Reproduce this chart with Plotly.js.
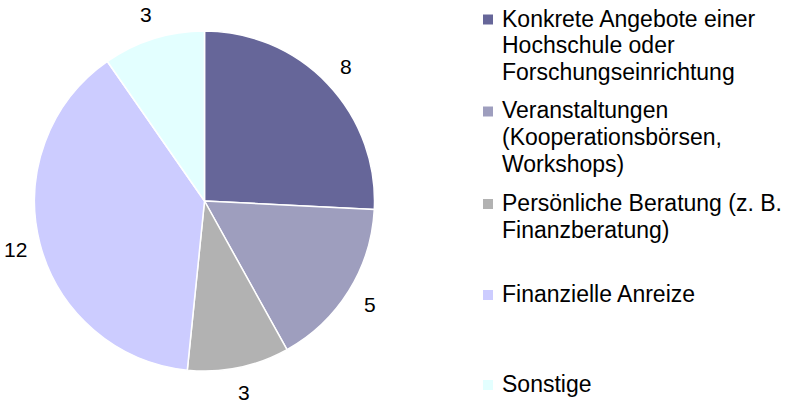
<!DOCTYPE html>
<html>
<head>
<meta charset="utf-8">
<script src="https://cdn.plot.ly/plotly-3.0.1.min.js"></script>
<style>html,body{margin:0;padding:0;background:#fff;}#chart{width:790px;height:403px;}</style>
</head>
<body>
<div id="chart"></div>
<script>
const categories = [
  "Konkrete Angebote einer Hochschule oder Forschungseinrichtung",
  "Veranstaltungen (Kooperationsbörsen, Workshops)",
  "Persönliche Beratung (z. B. Finanzberatung)",
  "Finanzielle Anreize",
  "Sonstige"
];
const values = [8, 5, 3, 12, 3];
const legendLines = [
  ["Konkrete Angebote einer", "Hochschule oder", "Forschungseinrichtung"],
  ["Veranstaltungen", "(Kooperationsbörsen,", "Workshops)"],
  ["Persönliche Beratung (z. B.", "Finanzberatung)"],
  ["Finanzielle Anreize"],
  ["Sonstige"]
];
const colors = ["#666699", "#9e9ebe", "#b2b2b2", "#ccccff", "#e3ffff"];

const W = 790, H = 403;
const font = "'Liberation Sans', Arial, sans-serif";
const legendFs = 23;
const labelFs = 21;
// pie geometry (pixels)
const pieX0 = 34, pieX1 = 375, pieY0 = 31, pieY1 = 371;
const cx = (pieX0 + pieX1) / 2, cy = (pieY0 + pieY1) / 2;
const labelR = 195;

const annotations = [];
const shapes = [];

// legend (pixel positions of first-line centers)
const legendTop = [18.5, 110.5, 203, 294, 384];
const lineGap = 26.5;
legendLines.forEach((lines, i) => {
  lines.forEach((t, j) => {
    annotations.push({
      xref: "paper", yref: "paper",
      x: 500 / W, y: 1 - (legendTop[i] + j * lineGap) / H,
      xanchor: "left", yanchor: "middle",
      text: t, showarrow: false,
      font: {family: font, size: legendFs, color: "#000"}
    });
  });
  const sy = legendTop[i] + 1;
  shapes.push({
    type: "rect", xref: "paper", yref: "paper",
    x0: 483 / W, x1: 493 / W,
    y0: 1 - (sy - 5) / H, y1: 1 - (sy + 5) / H,
    fillcolor: colors[i], line: {width: 0}
  });
});

// data labels, placed outside each slice at its mid-angle
const total = values.reduce((a, b) => a + b, 0);
let cum = 0;
values.forEach((v) => {
  const mid = (cum + v / 2) / total * 2 * Math.PI;
  cum += v;
  const px = cx + labelR * Math.sin(mid);
  const py = cy - labelR * Math.cos(mid);
  annotations.push({
    xref: "paper", yref: "paper",
    x: px / W, y: 1 - py / H,
    xanchor: "center", yanchor: "middle",
    text: String(v), showarrow: false,
    font: {family: font, size: labelFs, color: "#000"}
  });
});

const trace = {
  type: "pie",
  labels: categories,
  values: values,
  sort: false,
  direction: "clockwise",
  rotation: 0,
  marker: {colors: colors, line: {color: "#ffffff", width: 1.5}},
  textinfo: "none",
  showlegend: false,
  hoverinfo: "label+value",
  domain: {x: [pieX0 / W, pieX1 / W], y: [1 - pieY1 / H, 1 - pieY0 / H]}
};

const layout = {
  width: W, height: H,
  margin: {l: 0, r: 0, t: 0, b: 0},
  paper_bgcolor: "#fff",
  showlegend: false,
  annotations: annotations,
  shapes: shapes,
  font: {family: font}
};
Plotly.newPlot("chart", [trace], layout, {staticPlot: true});
</script>
</body>
</html>
